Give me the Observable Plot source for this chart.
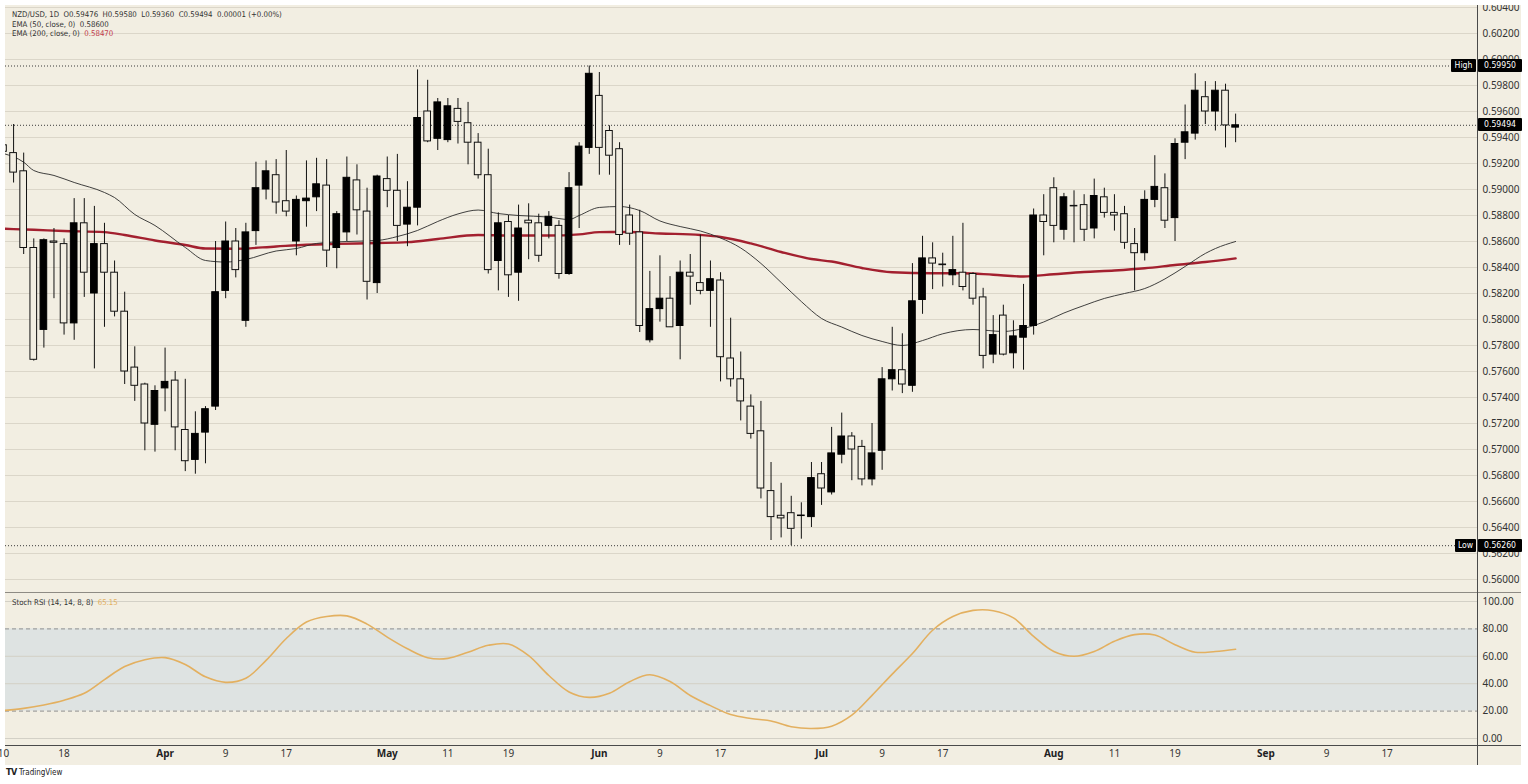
<!DOCTYPE html>
<html>
<head>
<meta charset="utf-8">
<script src="https://cdn.jsdelivr.net/npm/d3@7"></script>
<script src="https://cdn.jsdelivr.net/npm/@observablehq/plot@0.6"></script>
<style>
html,body{margin:0;padding:0;background:#fff;overflow:hidden;width:1528px;height:784px;}
#root{position:relative;width:1528px;height:784px;overflow:hidden;background:#fff;font-family:"DejaVu Sans Condensed","DejaVu Sans",sans-serif;color:#2a2a2a;}
.a{position:absolute;white-space:nowrap;}
</style>
</head>
<body>
<div id="root"></div>
<script>
// ---------------- DATA ----------------
const YEAR = "2026";
const firstBar = "03-10"; // first daily bar (trading days only)
const opens = [0.5934,0.5928,0.5914,0.5855,0.5792,0.5860,0.5858,0.5797,0.5874,0.5820,0.5858,0.5836,0.5806,0.5763,0.5750,0.5719,
 0.5747,0.5753,0.5715,0.5692,0.5713,0.5733,0.5822,0.5860,0.5799,0.5868,0.5900,0.5911,0.5891,0.5860,0.5891,0.5894,0.5903,0.5855,0.5867,0.5907,0.5883,0.5828,
 0.5908,0.5899,0.5873,0.5886,0.5960,0.5939,0.5938,0.5962,0.5951,0.5936,0.5911,0.5845,0.5875,0.5836,0.5876,0.5874,0.5872,0.5872,0.5835,0.5903,0.5932,
 0.5972,0.5945,0.5931,0.5880,0.5867,0.5784,0.5808,0.5816,0.5795,0.5836,0.5828,0.5822,0.5830,0.5770,0.5754,0.5733,0.5714,0.5668,0.5649,0.5651,0.56488,0.5648,
 0.5681,0.5667,0.5696,0.5710,0.5702,0.5677,0.5699,0.5754,0.5761,0.5749,0.5815,0.5847,0.58423,0.5834,0.5836,0.5835,0.5817,0.5773,0.5803,0.5774,0.5786,0.5795,0.5880,
 0.5901,0.5869,0.58874,0.5888,0.5870,0.5894,0.5882,0.5881,0.5858,0.5851,0.5892,0.5901,0.5878,0.5936,0.5943,0.5971,0.5960,0.5976,0.59476];
const highs = [0.5937,0.5950,0.5928,0.5862,0.5862,0.5870,0.5862,0.5893,0.5893,0.5887,0.5874,0.5845,0.5821,0.5779,0.5751,0.5749,
 0.5778,0.5760,0.5754,0.5729,0.5733,0.5860,0.5875,0.5870,0.5874,0.5921,0.5922,0.5923,0.5930,0.5895,0.5922,0.5924,0.5923,0.5883,0.5925,0.5919,0.5901,0.5911,
 0.5925,0.5927,0.5906,0.5992,0.5984,0.5970,0.5970,0.5970,0.5967,0.5943,0.5931,0.5882,0.5880,0.5888,0.5889,0.5881,0.5883,0.5876,0.5913,0.5936,0.5995,
 0.5990,0.5949,0.5936,0.5888,0.5884,0.5837,0.5849,0.5833,0.5845,0.5850,0.5865,0.5845,0.5836,0.5801,0.5775,0.5742,0.5737,0.5690,0.5674,0.5664,0.5659,0.5690,
 0.5690,0.5717,0.5728,0.5713,0.5707,0.5720,0.5763,0.5794,0.5789,0.5843,0.5864,0.5859,0.5851,0.5864,0.5874,0.5836,0.5824,0.5803,0.5811,0.5799,0.5827,0.5885,0.5896,
 0.5909,0.5897,0.5899,0.5896,0.5908,0.5901,0.5896,0.5887,0.5870,0.5899,0.5926,0.5912,0.5939,0.5965,0.5989,0.5983,0.5983,0.5981,0.5958];
const lows = [0.5925,0.5905,0.5850,0.5768,0.5778,0.5816,0.5788,0.5784,0.5817,0.5762,0.5794,0.5802,0.5750,0.5737,0.5699,0.5698,
 0.5729,0.5699,0.5683,0.5681,0.5689,0.5730,0.5816,0.5832,0.5794,0.5857,0.5892,0.5881,0.5879,0.5849,0.5871,0.5883,0.5840,0.5839,0.5860,0.5865,0.5815,0.5820,
 0.5886,0.5860,0.5856,0.5872,0.5936,0.5930,0.5936,0.5935,0.5919,0.5908,0.5835,0.5822,0.5817,0.5814,0.5846,0.5844,0.5862,0.5831,0.5834,0.5870,0.5927,
 0.5911,0.5911,0.5857,0.5857,0.5790,0.5782,0.5798,0.5794,0.5769,0.5811,0.5819,0.5794,0.5752,0.5748,0.5722,0.5708,0.5662,0.5630,0.5632,0.5626,0.5631,0.5640,
 0.5657,0.5665,0.5689,0.5676,0.5672,0.5672,0.5684,0.5745,0.5743,0.5744,0.5804,0.5823,0.5825,0.5826,0.5822,0.5811,0.5762,0.5766,0.5772,0.5762,0.5761,0.5788,0.5849,
 0.5859,0.5861,0.5859,0.5860,0.5862,0.5878,0.5868,0.5854,0.5822,0.5845,0.5886,0.5870,0.5860,0.5923,0.5938,0.5950,0.5945,0.5932,0.5936];
const closes = [0.5929,0.5913,0.5855,0.5769,0.5861,0.5859,0.5797,0.5874,0.5836,0.5858,0.5836,0.5806,0.5760,0.5749,0.5720,0.5745,
 0.5752,0.5717,0.5691,0.5712,0.5731,0.5821,0.5860,0.5838,0.5867,0.5901,0.5914,0.5890,0.5883,0.5892,0.5893,0.5904,0.5853,0.5881,0.5909,0.5884,0.5829,0.5910,
 0.5899,0.5872,0.5886,0.5955,0.5937,0.5967,0.5964,0.5952,0.5936,0.5911,0.5838,0.5874,0.5834,0.5870,0.5874,0.5849,0.5879,0.5835,0.5901,0.5933,0.5989,
 0.5932,0.5926,0.5865,0.5866,0.5795,0.5808,0.5816,0.5794,0.5836,0.5833,0.5822,0.5831,0.5771,0.5754,0.5737,0.5712,0.5670,0.5648,0.5647,0.5639,0.56492,0.5678,
 0.5670,0.5697,0.5710,0.5700,0.5677,0.5697,0.5754,0.5761,0.5750,0.5814,0.5847,0.5843,0.58418,0.5838,0.5825,0.5816,0.5772,0.5788,0.5773,0.5787,0.5795,0.5880,0.5875,
 0.5872,0.5894,0.58870,0.5869,0.5895,0.5882,0.5880,0.5859,0.5851,0.5892,0.5902,0.5876,0.5935,0.5944,0.5976,0.5960,0.5976,0.59493,0.59494];

const ema50Dates = ["03-10","03-12","03-13","03-17","03-19","03-24","03-25","03-27","03-31","04-03","04-07","04-09","04-13","04-16","04-20","04-22","04-27","04-30",
 "05-04","05-06","05-08","05-12","05-14","05-18","05-20","05-25","05-27","05-28","06-01","06-03","06-05","06-09","06-11","06-15","06-17","06-19","06-23","06-25","06-29",
 "07-01","07-03","07-07","07-09","07-13","07-15","07-17","07-22","07-27","07-29","07-31","08-04","08-06","08-10","08-12","08-14","08-18","08-20","08-24","08-25","08-27"];
const ema50Values = [0.59277,0.59210,0.59146,0.59108,0.59054,0.58977,0.58938,0.58808,0.58723,0.58554,0.58454,0.58442,0.58462,0.58527,0.58546,0.58585,0.58600,0.58608,
 0.58638,0.58685,0.58754,0.58812,0.58842,0.58815,0.58800,0.58788,0.58769,0.58800,0.58862,0.58869,0.58838,0.58758,0.58715,0.58681,0.58627,0.58550,0.58431,0.58285,0.58138,
 0.58008,0.57942,0.57877,0.57831,0.57800,0.57838,0.57890,0.57923,0.57908,0.57931,0.57981,0.58050,0.58108,0.58162,0.58200,0.58238,0.58312,0.58408,0.58508,0.58546,0.58600];

const ema200Dates = ["03-10","03-13","03-18","03-24","03-26","03-31","04-03","04-07","04-10","04-16","04-21","04-24","04-30","05-05","05-08","05-14","05-19","05-25",
 "05-28","06-01","06-04","06-09","06-15","06-17","06-22","06-25","06-30","07-02","07-07","07-10","07-16","07-21","07-24","07-29","08-03","08-06","08-11","08-14","08-19","08-24","08-27"];
const ema200Values = [0.58698,0.58690,0.58681,0.58672,0.58650,0.58608,0.58573,0.58546,0.58544,0.58562,0.58575,0.58582,0.58588,0.58595,0.58619,0.58650,0.58646,0.58646,
 0.58655,0.58672,0.58673,0.58662,0.58650,0.58635,0.58585,0.58519,0.58465,0.58446,0.58396,0.58364,0.58356,0.58356,0.58344,0.58331,0.58348,0.58365,0.58377,0.58394,0.58419,0.58442,0.58470];

const stochDates = ["03-10","03-12","03-16","03-18","03-20","03-24","03-26","03-30","04-01","04-03","04-07","04-09","04-13","04-15","04-17","04-21","04-23","04-27","04-29",
 "05-01","05-05","05-07","05-11","05-13","05-15","05-19","05-21","05-25","05-27","05-29","06-02","06-04","06-08","06-10","06-12","06-16","06-18","06-22","06-24","06-26","06-30",
 "07-02","07-06","07-08","07-10","07-14","07-16","07-20","07-22","07-24","07-28","07-30","08-03","08-05","08-07","08-11","08-13","08-17","08-19","08-21","08-25","08-27"];
const stochValues = [20.4,22,24.5,28,33,43,52.5,57.5,59,54,45,41,44,57,73,85,89,89.5,83.5,
 74,65.5,59,58.5,63,68,69,60.5,46,34,30,33,41.5,46.5,41.6,31.4,24,17.5,14.6,12.8,8.6,7.3,
 9,17,31.5,47,62,79,89,93.5,93.3,88,74.5,63.5,60,63.5,71,75.8,75.5,68.5,63,63.5,65.15];

const priceTicks = [0.560,0.562,0.564,0.566,0.568,0.570,0.572,0.574,0.576,0.578,0.580,0.582,0.584,0.586,0.588,0.590,0.592,0.594,0.596,0.598,0.600,0.602,0.604];
const stochTicks = [100,80,60,40,20,0];
const stochBand = [20,80];
const tickDates  = ["03-10","03-18","04-01","04-09","04-17","05-01","05-11","05-19","06-01","06-09","06-17","07-01","07-09","07-17","08-03","08-11","08-19","09-01","09-09","09-17"];
const tickLabels = ["10","18","Apr","9","17","May","11","19","Jun","9","17","Jul","9","17","Aug","11","19","Sep","9","17"];
const monthLabels = ["Apr","May","Jun","Jul","Aug","Sep"];
const highLevel = 0.59950, lowLevel = 0.56260;

// ---------------- SETUP ----------------
const BG = "#f2eee2", GRID = "#dbd6c9", FONT = '"DejaVu Sans Condensed","DejaVu Sans",sans-serif';
const calendar = d3.utcDay.range(new Date(`${YEAR}-03-10`), new Date(`${YEAR}-10-20`)).filter(d => d.getUTCDay() % 6 !== 0);
const md = d3.utcFormat("%m-%d");
const barIndex = new Map(calendar.map((d, i) => [md(d), i]));
const start = barIndex.get(firstBar);
const candles = opens.map((o, k) => ({i: start + k, open: o, high: highs[k], low: lows[k], close: closes[k]}));
const upC = candles.filter(d => d.close >= d.open), dnC = candles.filter(d => d.close < d.open);
const ema50 = ema50Dates.map((d, k) => ({i: barIndex.get(d), v: ema50Values[k]}));
const ema200 = ema200Dates.map((d, k) => ({i: barIndex.get(d), v: ema200Values[k]}));
const stoch = stochDates.map((d, k) => ({i: barIndex.get(d), v: stochValues[k]}));
const ticks = tickDates.map((d, k) => ({i: barIndex.get(d), label: tickLabels[k]}));
const monthTicks = ticks.filter(t => monthLabels.includes(t.label));
const dayTicks = ticks.filter(t => !monthLabels.includes(t.label));
const xDomain = [0.2, 145.95];
const halfBody = 0.33;
const f5 = d3.format(".5f");

const root = document.getElementById("root");
function box(css, html) { const d = document.createElement("div"); d.className = "a"; d.style.cssText = css; if (html != null) d.innerHTML = html; root.appendChild(d); return d; }

// cream chart background
box(`left:5px;top:5px;width:1516px;height:760px;background:${BG};`);

// ---------------- PRICE PANE ----------------
const price = Plot.plot({
  width: 1528, height: 592,
  marginLeft: 5, marginRight: 51, marginTop: 5, marginBottom: 0,
  style: {background: "transparent", fontFamily: FONT, fontSize: "8.6px", color: "#333"},
  x: {domain: xDomain, axis: null, label: null},
  y: {domain: [0.559, 0.604154], axis: null, label: null},
  marks: [
    Plot.gridY(priceTicks, {stroke: GRID, strokeOpacity: 1}),
    Plot.axisY(priceTicks, {anchor: "right", tickSize: 0, tickPadding: 5, tickFormat: f5, fill: "#333", label: null}),
    Plot.ruleY([highLevel, lowLevel, closes[closes.length - 1]], {stroke: "#3a3a3a", strokeDasharray: "1,2", strokeWidth: 1}),
    Plot.line(ema200, {x: "i", y: "v", stroke: "#a3202f", strokeWidth: 2.4, curve: "monotone-x", clip: true}),
    Plot.line(ema50, {x: "i", y: "v", stroke: "#2b2b2b", strokeWidth: 0.9, curve: "monotone-x", clip: true}),
    Plot.ruleX(candles, {x: "i", y1: "low", y2: "high", stroke: "#111", strokeWidth: 1, clip: true}),
    Plot.rect(dnC, {x1: d => d.i - halfBody, x2: d => d.i + halfBody, y1: "open", y2: "close", fill: BG, stroke: "#111", strokeWidth: 1, clip: true}),
    Plot.rect(upC, {x1: d => d.i - halfBody, x2: d => d.i + halfBody, y1: "open", y2: "close", fill: "#000", stroke: "#000", strokeWidth: 1, clip: true})
  ]
});
price.style.cssText = "position:absolute;left:0;top:0;";
root.appendChild(price);

// ---------------- STOCH RSI PANE ----------------
const stochPlot = Plot.plot({
  width: 1528, height: 173,
  marginLeft: 5, marginRight: 51, marginTop: 2, marginBottom: 20,
  style: {background: "transparent", fontFamily: FONT, fontSize: "8.6px", color: "#333"},
  x: {domain: xDomain, axis: null, label: null},
  y: {domain: [-5.1, 105.1], axis: null, label: null},
  marks: [
    Plot.rect([stochBand], {x1: () => xDomain[0], x2: () => xDomain[1], y1: d => d[0], y2: d => d[1], fill: "#dee3e2"}),
    Plot.gridY([100, 60, 40, 0], {stroke: "#d3d0c6", strokeOpacity: 1}),
    Plot.ruleY(stochBand, {stroke: "#8f8f8f", strokeDasharray: "4,3", strokeWidth: 1}),
    Plot.axisY(stochTicks, {anchor: "right", tickSize: 0, tickPadding: 5, tickFormat: d3.format(".2f"), fill: "#333", label: null}),
    Plot.line(stoch, {x: "i", y: "v", stroke: "#e3b060", strokeWidth: 1.6, curve: "catmull-rom", clip: true}),
    Plot.axisX(dayTicks.map(t => t.i), {anchor: "bottom", tickSize: 0, tickPadding: 4, tickFormat: i => ticks.find(t => t.i === i).label, fill: "#333", label: null}),
    Plot.axisX(monthTicks.map(t => t.i), {anchor: "bottom", tickSize: 0, tickPadding: 4, tickFormat: i => ticks.find(t => t.i === i).label, fill: "#222", fontWeight: "bold", label: null})
  ]
});
stochPlot.style.cssText = "position:absolute;left:0;top:592px;";
root.appendChild(stochPlot);

// ---------------- FRAME LINES ----------------
box("left:5px;top:592px;width:1516px;height:1px;background:#8e8b84;");
box("left:5px;top:745px;width:1516px;height:1px;background:#4a4a4a;");
box("left:1477px;top:5px;width:1px;height:760px;background:#4a4a4a;");
box("left:0;top:0;width:1528px;height:5px;background:#fff;");
box("left:1521px;top:0;width:7px;height:784px;background:#fff;");
box("left:0;top:765px;width:1528px;height:19px;background:#fff;");

// ---------------- PRICE LABEL TAGS ----------------
const ys = price.scale("y");
function tag(v, left, width, text) {
  const y = ys.apply(v);
  box(`left:${left}px;top:${y - 6.5}px;width:${width}px;height:13px;line-height:13px;background:#000;color:#fff;font-size:8.6px;text-align:center;border-radius:1px;`, text);
}
tag(highLevel, 1451, 25, "High");
tag(highLevel, 1478, 44, f5(highLevel));
tag(closes[closes.length - 1], 1478, 44, f5(closes[closes.length - 1]));
tag(lowLevel, 1455, 21, "Low");
tag(lowLevel, 1478, 44, f5(lowLevel));

// ---------------- LEGENDS ----------------
const n = closes.length - 1;
const chg = closes[n] - closes[n - 1];
box(`left:12px;top:10px;font-size:7.8px;line-height:9px;color:#333;`,
  `NZD/USD, 1D&nbsp; O${f5(opens[n])}&nbsp; H${f5(highs[n])}&nbsp; L${f5(lows[n])}&nbsp; C${f5(closes[n])}&nbsp; ${f5(chg)} (+${(chg / closes[n - 1] * 100).toFixed(2)}%)`);
box(`left:12px;top:19.5px;font-size:7.8px;line-height:9px;color:#333;`,
  `EMA (50, close, 0)&nbsp; ${f5(ema50Values[ema50Values.length - 1])}`);
box(`left:12px;top:28.5px;font-size:7.8px;line-height:9px;color:#333;`,
  `EMA (200, close, 0)&nbsp; <span style="color:#c23a4c">${f5(ema200Values[ema200Values.length - 1])}</span>`);
box(`left:12px;top:598px;font-size:7.8px;line-height:9px;color:#333;`,
  `Stoch RSI (14, 14, 8, 8)&nbsp; <span style="color:#e3b060">${stochValues[stochValues.length - 1].toFixed(2)}</span>`);

// footer brand
box(`left:6px;top:767px;font-size:8px;line-height:10px;color:#222;font-family:${FONT};`,
  `<b style="font-size:9px;letter-spacing:-0.5px">TV</b> TradingView`);
</script>
</body>
</html>
